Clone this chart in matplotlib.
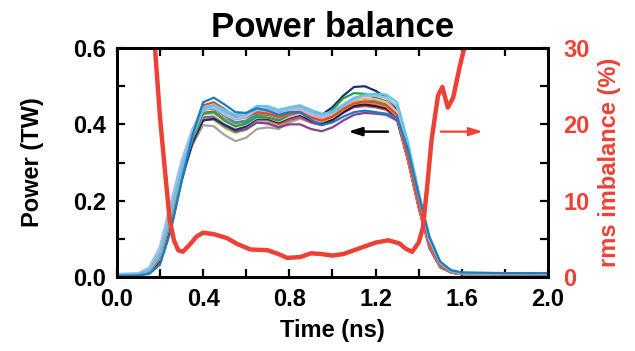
"""Power balance plot: per-beam power histories and rms imbalance."""

import matplotlib

matplotlib.use("Agg")
import matplotlib.pyplot as plt
from matplotlib.ticker import MultipleLocator

RED = "#ee4136"

# common time grid for the beam power traces (ns)
time_ns = [0.00, 0.10, 0.15, 0.20, 0.25, 0.30, 0.35, 0.40, 0.45, 0.50, 0.55, 0.60,
           0.65, 0.70, 0.75, 0.80, 0.85, 0.90, 0.95, 1.00, 1.05, 1.10, 1.15, 1.20,
           1.25, 1.30, 1.35, 1.40, 1.45, 1.50, 1.55, 1.60, 1.80, 2.00]

# beam powers (TW), one list per beam
beam_gray = [.005, .007, .016, .055, .152, .262, .345, .398, .395, .372, .356, .365, .388, .392, .388, .405, .415,
             .405, .400, .415, .438, .455, .460, .458, .452, .428, .318, .192, .086, .031, .013, .008, .006, .005]
beam_olive = [.004, .006, .013, .048, .145, .262, .352, .412, .412, .392, .378, .386, .405, .405, .395, .410, .418,
              .405, .398, .412, .432, .448, .452, .450, .445, .420, .312, .188, .084, .030, .013, .008, .006, .005]
beam_purple = [.003, .005, .010, .036, .126, .250, .352, .418, .420, .398, .382, .388, .405, .402, .392, .400, .400,
               .388, .382, .392, .410, .425, .430, .428, .425, .410, .305, .180, .075, .025, .011, .007, .005, .005]
beam_slate = [.004, .006, .013, .046, .144, .262, .355, .418, .420, .400, .386, .394, .412, .412, .402, .414, .420,
              .408, .400, .414, .436, .452, .456, .452, .446, .422, .312, .187, .083, .029, .012, .008, .006, .005]
beam_magenta = [.004, .006, .013, .047, .146, .265, .358, .420, .425, .405, .392, .398, .415, .412, .402, .412, .420,
                .405, .398, .410, .430, .445, .448, .445, .438, .415, .308, .184, .082, .029, .012, .008, .006, .005]
beam_black = [.003, .005, .012, .045, .145, .265, .360, .425, .430, .412, .398, .402, .418, .415, .405, .418, .425,
              .410, .400, .412, .432, .448, .452, .448, .442, .418, .310, .186, .083, .029, .012, .008, .006, .005]
beam_navy = [.004, .006, .012, .045, .140, .258, .350, .410, .415, .398, .385, .395, .415, .415, .408, .425, .438,
             .430, .425, .445, .475, .498, .500, .488, .470, .440, .325, .195, .088, .030, .013, .008, .006, .005]
beam_khaki = [.005, .007, .015, .053, .154, .270, .362, .424, .426, .406, .392, .400, .418, .418, .408, .420, .428,
              .416, .408, .420, .440, .456, .460, .456, .450, .426, .316, .190, .085, .030, .013, .008, .006, .005]
beam_yellow = [.006, .008, .018, .060, .165, .282, .372, .432, .432, .412, .398, .405, .422, .420, .412, .428, .435,
               .422, .415, .428, .450, .468, .472, .470, .462, .432, .318, .190, .085, .030, .013, .009, .008, .008]
beam_brown = [.004, .006, .013, .049, .150, .270, .364, .430, .434, .414, .400, .406, .424, .422, .412, .424, .430,
              .416, .406, .418, .438, .454, .458, .454, .446, .420, .310, .186, .083, .029, .012, .008, .006, .005]
beam_lavender = [.005, .007, .017, .058, .162, .280, .370, .428, .430, .412, .398, .402, .420, .420, .410, .422, .428,
                 .415, .408, .418, .438, .455, .460, .458, .452, .432, .325, .198, .090, .033, .014, .009, .007, .006]
beam_green = [.004, .006, .013, .048, .148, .268, .362, .428, .432, .410, .395, .402, .420, .418, .410, .425, .432,
              .420, .415, .438, .468, .482, .480, .470, .460, .430, .318, .190, .082, .028, .012, .008, .006, .005]
beam_teal = [.004, .006, .014, .050, .152, .272, .368, .438, .442, .422, .405, .410, .428, .428, .420, .432, .438,
             .425, .415, .425, .445, .462, .466, .462, .455, .428, .318, .192, .086, .031, .013, .008, .006, .005]
beam_salmon = [.004, .006, .014, .051, .153, .274, .370, .440, .446, .428, .414, .418, .434, .432, .424, .434, .440,
               .426, .418, .428, .448, .464, .468, .466, .458, .432, .320, .193, .087, .031, .013, .008, .006, .005]
beam_pink = [.004, .006, .014, .050, .150, .272, .368, .438, .445, .425, .412, .418, .435, .432, .422, .432, .438,
             .422, .412, .422, .442, .458, .462, .456, .448, .422, .310, .186, .082, .029, .012, .008, .006, .005]
beam_orange = [.004, .006, .014, .051, .152, .272, .370, .442, .450, .432, .415, .418, .432, .428, .418, .428, .432,
               .418, .410, .420, .440, .455, .458, .455, .448, .424, .313, .189, .085, .030, .013, .008, .006, .005]
beam_red = [.004, .006, .014, .052, .155, .280, .380, .450, .458, .440, .420, .420, .432, .428, .420, .428, .432,
            .418, .410, .420, .440, .455, .460, .458, .450, .425, .315, .190, .085, .030, .013, .008, .006, .005]
beam_sky = [.006, .008, .020, .066, .174, .290, .378, .444, .450, .432, .418, .424, .442, .442, .432, .440, .446,
            .432, .424, .434, .452, .470, .476, .476, .470, .446, .338, .210, .096, .036, .015, .010, .008, .007]
beam_lightblue = [.008, .010, .025, .080, .195, .305, .388, .440, .445, .428, .415, .420, .438, .438, .428, .438, .442,
                  .428, .420, .430, .450, .468, .475, .475, .470, .448, .345, .218, .100, .038, .016, .010, .008, .008]
beam_cyan = [.005, .007, .016, .056, .160, .278, .372, .440, .452, .438, .425, .430, .448, .448, .438, .445, .450,
             .438, .428, .432, .448, .468, .478, .480, .478, .458, .355, .225, .105, .040, .016, .010, .008, .008]
beam_blue = [.003, .004, .008, .032, .120, .250, .370, .458, .470, .452, .432, .430, .442, .436, .425, .432, .432,
             .412, .398, .405, .420, .432, .436, .432, .428, .418, .335, .215, .105, .040, .018, .012, .010, .010]

beams = [
    (beam_gray, "#a3a3a3"),
    (beam_olive, "#a9a23a"),
    (beam_purple, "#8b3f93"),
    (beam_slate, "#6f7fa8"),
    (beam_magenta, "#c2428a"),
    (beam_black, "#222222"),
    (beam_navy, "#1e2f78"),
    (beam_khaki, "#e8d9a0"),
    (beam_yellow, "#f1e06a"),
    (beam_brown, "#9a5a3a"),
    (beam_lavender, "#c9b5de"),
    (beam_green, "#2ca048"),
    (beam_teal, "#1fa3a3"),
    (beam_salmon, "#f4b8a0"),
    (beam_pink, "#f2a3b0"),
    (beam_orange, "#f08a3c"),
    (beam_red, "#d6502b"),
    (beam_sky, "#7fb4e0"),
    (beam_lightblue, "#a6bde6"),
    (beam_cyan, "#5cc6e3"),
    (beam_blue, "#1b7bc3"),
]

# rms power imbalance (%)
rms_time = [0.16, 0.177, 0.20, 0.223, 0.245, 0.265, 0.285, 0.306, 0.34, 0.37, 0.40, 0.45, 0.51, 0.56, 0.62,
            0.70, 0.75, 0.79, 0.85, 0.90, 0.95, 1.00, 1.05, 1.10, 1.15, 1.20, 1.26, 1.31, 1.34, 1.37,
            1.40, 1.42, 1.44, 1.46, 1.49, 1.51, 1.535, 1.56, 1.59, 1.62]
rms_pct = [36, 30, 21, 14, 7.5, 4.8, 3.5, 3.3, 4.3, 5.3, 5.8, 5.6, 5.1, 4.3, 3.6,
           3.5, 3.0, 2.5, 2.6, 3.1, 3.0, 2.8, 3.0, 3.5, 4.0, 4.5, 4.8, 4.4, 3.7, 3.3,
           4.5, 6.5, 12, 18, 23.8, 24.9, 22.2, 23.5, 27.5, 31]


def style_axis(ax, color="black", pad=8):
    ax.tick_params(which="both", direction="in", width=1.6, length=6, colors="black",
                   labelcolor=color, labelsize=17, pad=pad)
    for lab in ax.get_yticklabels() + ax.get_xticklabels():
        lab.set_fontweight("bold")


def main():
    plt.rcParams["font.family"] = ["Liberation Sans", "DejaVu Sans"]
    fig = plt.figure(figsize=(6.35, 3.51), dpi=100)
    ax = fig.add_axes([0.184, 0.211, 0.679, 0.652])

    for vals, col in beams:
        ax.plot(time_ns, vals, color=col, lw=1.6, solid_joinstyle="round")

    ax.set_xlim(0, 2.0)
    ax.set_ylim(0, 0.6)
    ax.xaxis.set_major_locator(MultipleLocator(0.4))
    ax.xaxis.set_minor_locator(MultipleLocator(0.2))
    ax.yaxis.set_major_locator(MultipleLocator(0.2))
    ax.yaxis.set_minor_locator(MultipleLocator(0.1))
    ax.xaxis.set_major_formatter(lambda v, p: f"{v:.1f}")
    ax.yaxis.set_major_formatter(lambda v, p: f"{v:.1f}")
    ax.tick_params(which="both", top=True)
    style_axis(ax, pad=8)
    for sp in ax.spines.values():
        sp.set_linewidth(2)

    ax.set_xlabel("Time (ns)", fontsize=17, fontweight="bold", labelpad=6)
    ax.set_ylabel("Power (TW)", fontsize=17, fontweight="bold", labelpad=21)
    ax.set_title("Power balance", fontsize=25, fontweight="bold", pad=8)

    ax.annotate("", xy=(1.06, 0.381), xytext=(1.27, 0.381),
                arrowprops=dict(arrowstyle="-|>,head_length=0.8,head_width=0.25",
                                color="black", lw=1.8))
    ax.annotate("", xy=(1.71, 0.381), xytext=(1.49, 0.381),
                arrowprops=dict(arrowstyle="-|>,head_length=0.8,head_width=0.25",
                                color=RED, lw=1.6))

    ax2 = ax.twinx()
    ax2.plot(rms_time, rms_pct, color=RED, lw=3.2, solid_capstyle="round")
    ax2.set_ylim(0, 30)
    ax2.yaxis.set_major_locator(MultipleLocator(10))
    ax2.yaxis.set_minor_locator(MultipleLocator(5))
    style_axis(ax2, RED, pad=11)
    for sp in ax2.spines.values():
        sp.set_linewidth(2)
    ax2.set_ylabel("rms imbalance (%)", fontsize=17, fontweight="bold",
                   color=RED, labelpad=6)

    fig.savefig("out.png", dpi=100)
    plt.close(fig)


if __name__ == "__main__":
    main()
